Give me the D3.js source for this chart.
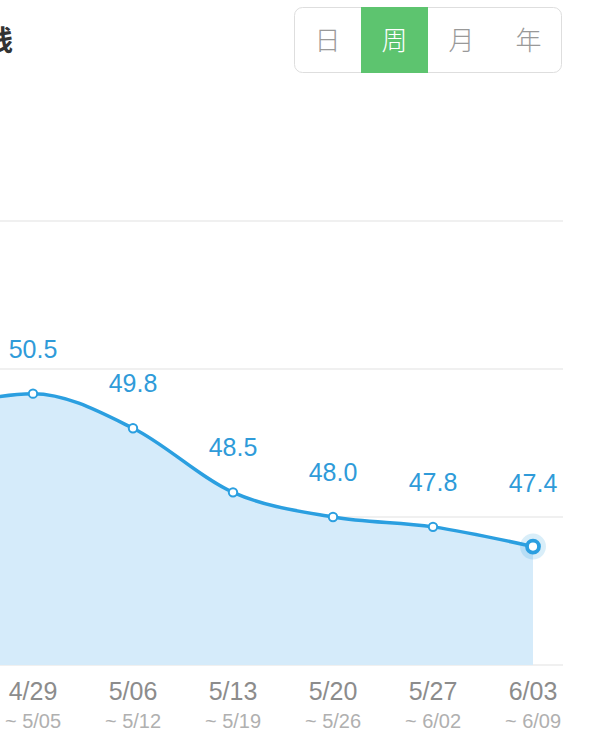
<!DOCTYPE html>
<html><head><meta charset="utf-8">
<script src="https://cdn.jsdelivr.net/npm/d3@7/dist/d3.min.js"></script>
<style>
html,body{margin:0;padding:0;background:#fff;}
svg{display:block;font-family:"Noto Sans CJK SC","Noto Sans",sans-serif;}
.num{font-family:"Liberation Sans",Arial,sans-serif;}
</style></head>
<body>
<script>
const titleText = "体重曲线";
const periods = ["日","周","月","年"];
const selectedPeriod = "周";
const weekStarts = ["4/22","4/29","5/06","5/13","5/20","5/27","6/03"];
const weekEnds   = ["4/28","5/05","5/12","5/19","5/26","6/02","6/09"];
const weights    = [50.1, 50.5, 49.8, 48.5, 48.0, 47.8, 47.4];
const yTicks = [45, 48, 51, 54];

const W = 593, H = 742;
const svg = d3.select("body").append("svg").attr("width", W).attr("height", H);

// title (cropped at the left, as in the reference)
svg.append("text").attr("x", 13).attr("y", 51).attr("text-anchor","end")
  .attr("font-size", 28).attr("font-weight", 700).attr("fill", "#333").text(titleText);

// segmented control
const seg = d3.scaleBand().domain(periods).range([294, 562]);
const g0 = svg.append("g");
g0.append("rect").attr("x", 294.5).attr("y", 7.5).attr("width", 267).attr("height", 65)
  .attr("rx", 8).attr("fill", "#fff").attr("stroke", "#dedede");
g0.append("rect").attr("x", seg(selectedPeriod)).attr("y", 7).attr("width", seg.bandwidth()).attr("height", 66)
  .attr("fill", "#5dc46f");
g0.selectAll("text.p").data(periods).join("text")
  .attr("x", d => seg(d) + seg.bandwidth()/2).attr("y", 50).attr("text-anchor","middle")
  .attr("font-size", 26).attr("font-weight", 300)
  .attr("fill", d => d === selectedPeriod ? "#fff" : "#999").text(d => d);

// scales
const x = d3.scalePoint().domain(weekStarts).range([-67, 533]);
const y = d3.scaleLinear().domain([45, 54]).range([665, 221]);

// grid
svg.append("g").selectAll("line").data(yTicks).join("line")
  .attr("x1", 0).attr("x2", 563).attr("y1", d => y(d)).attr("y2", d => y(d))
  .attr("stroke", "#ebebeb").attr("stroke-width", 1.5);

const data = weekStarts.map((w,i) => ({w, e: weekEnds[i], v: weights[i]}));
const visible = data.filter(d => x(d.w) >= 0);

const area = d3.area().x(d => x(d.w)).y0(y(45)).y1(d => y(d.v)).curve(d3.curveMonotoneX);
const line = d3.line().x(d => x(d.w)).y(d => y(d.v)).curve(d3.curveMonotoneX);

svg.append("path").datum(data).attr("d", area).attr("fill", "#d5ebfa");
svg.append("path").datum(data).attr("d", line).attr("fill", "none")
  .attr("stroke", "#2b9fe0").attr("stroke-width", 3.5);

const last = data[data.length-1];
const normal = visible.slice(0, -1);
svg.append("g").selectAll("circle").data(normal).join("circle")
  .attr("cx", d => x(d.w)).attr("cy", d => y(d.v)).attr("r", 4.2)
  .attr("fill", "#fff").attr("stroke", "#2b9fe0").attr("stroke-width", 2);
svg.append("circle").attr("cx", x(last.w)).attr("cy", y(last.v)).attr("r", 13)
  .attr("fill", "#2b9fe0").attr("opacity", 0.18);
svg.append("circle").attr("cx", x(last.w)).attr("cy", y(last.v)).attr("r", 6)
  .attr("fill", "#fff").attr("stroke", "#2b9fe0").attr("stroke-width", 3.8);

// value labels
svg.append("g").selectAll("text").data(visible).join("text")
  .attr("class","num")
  .attr("x", d => x(d.w))
  .attr("y", d => d === last ? y(last.v) - 55 : y(d.v) - 36)
  .attr("text-anchor","middle").attr("font-size", 25).attr("fill", "#2f9bd9")
  .text(d => d.v.toFixed(1));

// x labels
const xl = svg.append("g").selectAll("g").data(visible).join("g")
  .attr("transform", d => `translate(${x(d.w)},0)`);
xl.append("text").attr("class","num").attr("y", 700).attr("text-anchor","middle").attr("font-size", 25)
  .attr("fill", "#8c8c8c").text(d => d.w);
xl.append("text").attr("class","num").attr("y", 728).attr("text-anchor","middle").attr("font-size", 20)
  .attr("fill", "#b0b0b0").text(d => "~ " + d.e);
</script>
</body></html>
